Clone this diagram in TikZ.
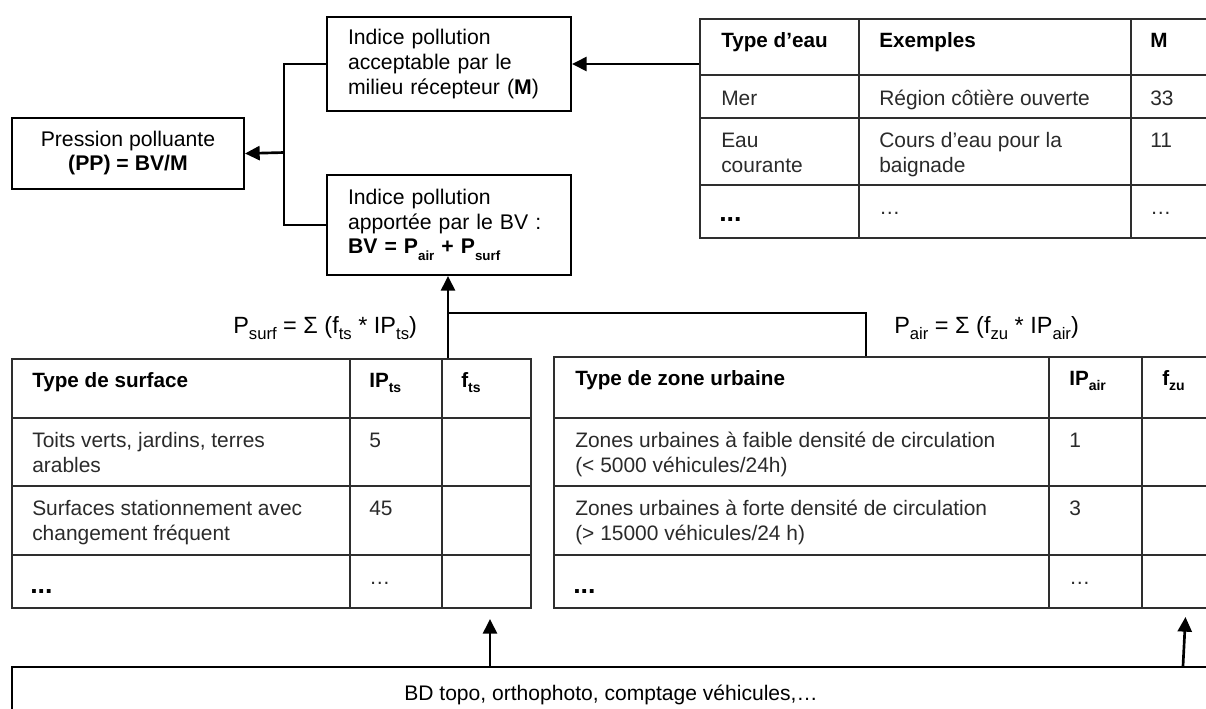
\documentclass[tikz,border=0pt]{standalone}
\usepackage{fontspec}
\setmainfont{Liberation Sans}
\usetikzlibrary{arrows.meta}
\definecolor{tabline}{HTML}{2E2E2E}
\definecolor{bodytext}{HTML}{2A2A2A}
\newcommand\mysub[3]{\raisebox{-#1}{\fontsize{#2}{#2}\selectfont #3}}
\begin{document}
\begin{tikzpicture}[x=0.75pt,y=-0.75pt,
  box/.style={draw, line width=1.5pt, anchor=north west, inner sep=0pt},
  conn/.style={line width=2pt},
  arr/.style={conn, -{Triangle[length=11pt,width=10.5pt]}},
  grid/.style={line width=1.5pt, draw=tabline},
  tab/.style={draw=tabline, line width=1.5pt, anchor=north west, inner sep=0pt},
  hd/.style={anchor=base west, inner sep=0pt, font=\fontsize{15.5}{18.75}\selectfont\bfseries},
  cell/.style={anchor=base west, inner sep=0pt, align=left, text=bodytext, font=\fontsize{15.7}{18.75}\selectfont},
  dots/.style={anchor=base west, inner sep=0pt, font=\fontsize{20}{20}\selectfont\bfseries},
  formula/.style={anchor=base west, inner sep=0pt, font=\fontsize{17.6}{20}\selectfont}]
\useasboundingbox (0,0) rectangle (1206,708);

% ---- boxes ----
\node[box, minimum width=174pt, minimum height=53.25pt, align=center,
      font=\fontsize{15.9}{18}\selectfont] (PP) at (11,117)
  {\rule{0pt}{6pt}Pression polluante\\\textbf{(PP) = BV/M}\rule[-4pt]{0pt}{1pt}};
\node[box, minimum width=183pt, minimum height=70.5pt, text width=151.5pt, align=left,
      font=\fontsize{15.9}{18.75}\selectfont] (M) at (326,16)
  {Indice pollution\\acceptable par le\\milieu récepteur (\textbf{M})};
\node[box, minimum width=183pt, minimum height=75pt, text width=151.5pt, align=left,
      font=\fontsize{15.9}{18.4}\selectfont] (BV) at (326,174)
  {Indice pollution\\apportée par le BV :\\\textbf{BV = P\mysub{5pt}{10}{air} + P\mysub{5pt}{10}{surf}}};

% ---- top-right table ----
\node[tab, minimum width=387pt, minimum height=164.25pt] (tabM) at (699,18) {};
\draw[grid] (699,75) -- (1215,75);
\draw[grid] (699,118) -- (1215,118);
\draw[grid] (699,185) -- (1215,185);
\draw[grid] (859,18) -- (859,237);
\draw[grid] (1131,18) -- (1131,237);
\node[hd] (mh1) at (721,47) {Type d’eau};
\node[hd] (mh2) at (879,47) {Exemples};
\node[hd] (mh3) at (1150,47) {M};
\node[cell] (m11) at (721,105) {Mer};
\node[cell] (m12) at (879,105) {Région côtière ouverte};
\node[cell] (m13) at (1150,105) {33};
\node[cell] (m21) at (721,172) {Eau\\courante};
\node[cell] (m22) at (879,172) {Cours d’eau pour la\\baignade};
\node[cell] (m23) at (1150,147) {11};
\node[dots] (m31) at (719,221) {...};
\node[cell] (m32) at (879,214) {…};
\node[cell] (m33) at (1150,214) {…};

% ---- bottom-left table ----
\node[tab, minimum width=389.25pt, minimum height=186.75pt] (tabS) at (11,358) {};
\draw[grid] (11,418) -- (530,418);
\draw[grid] (11,486) -- (530,486);
\draw[grid] (11,555) -- (530,555);
\draw[grid] (350,358) -- (350,607);
\draw[grid] (442,358) -- (442,607);
\node[hd] (sh1) at (32,387) {Type de surface};
\node[hd] (sh2) at (369,387) {IP\mysub{4pt}{10.5}{ts}};
\node[hd] (sh3) at (461,387) {f\mysub{4pt}{10.5}{ts}};
\node[cell] (s11) at (32,472) {Toits verts, jardins, terres\\arables};
\node[cell] (s12) at (369,447) {5};
\node[cell] (s21) at (32,540) {Surfaces stationnement avec\\changement fréquent};
\node[cell] (s22) at (369,515) {45};
\node[dots] (s31) at (30,593) {...};
\node[cell] (s32) at (369,584) {…};

% ---- bottom-right table ----
\node[tab, minimum width=496.5pt, minimum height=188.25pt] (tabA) at (553,356) {};
\draw[grid] (553,418) -- (1215,418);
\draw[grid] (553,486) -- (1215,486);
\draw[grid] (553,555) -- (1215,555);
\draw[grid] (1049,356) -- (1049,607);
\draw[grid] (1142,356) -- (1142,607);
\node[hd] (ah1) at (575,385) {Type de zone urbaine};
\node[hd] (ah2) at (1069,385) {IP\mysub{4pt}{10.5}{air}};
\node[hd] (ah3) at (1162,385) {f\mysub{4pt}{10.5}{zu}};
\node[cell] (a11) at (575,472) {Zones urbaines à faible densité de circulation\\(< 5000 véhicules/24h)};
\node[cell] (a12) at (1069,447) {1};
\node[cell] (a21) at (575,540) {Zones urbaines à forte densité de circulation\\(> 15000 véhicules/24 h)};
\node[cell] (a22) at (1069,515) {3};
\node[dots] (a31) at (573,593) {...};
\node[cell] (a32) at (1069,584) {…};

% ---- formulas ----
\node[formula] (fs) at (233,333)
  {P\mysub{5pt}{12.5}{surf} = Σ (f\mysub{5pt}{12.5}{ts} * IP\mysub{5pt}{12.5}{ts})};
\node[formula] (fa) at (894,333)
  {P\mysub{5pt}{12.5}{air} = Σ (f\mysub{5pt}{12.5}{zu} * IP\mysub{5pt}{12.5}{air})};

% ---- bottom source box ----
\node[box, minimum width=907.5pt, minimum height=45pt] (bot) at (11,666) {};
\node[anchor=base, inner sep=0pt, font=\fontsize{15.8}{18.75}\selectfont] (bottxt) at (611,700)
  {BD topo, orthophoto, comptage véhicules,…};

% ---- connectors ----
\coordinate (J) at (284,152.5);
\draw[conn] (M.west) -| (J) |- (BV.west);
\draw[arr] (J) -- (PP.east);
\draw[arr] (M.east -| tabM.west) -- (M.east);
\coordinate (sj) at (448,313);
\coordinate (aj) at (866,313);
\draw[arr] (tabS.north -| sj) -- (BV.south -| sj);
\draw[conn] (sj) -- (aj) -- (aj |- tabA.north);
\coordinate (u1) at (490,666);
\coordinate (u2) at (1183,666);
\coordinate (u2t) at (1186,607);
\draw[arr, shorten >=7.5pt] (u1) -- (u1 |- tabS.south);
\draw[arr, shorten >=7.5pt] (u2) -- (u2t);
\end{tikzpicture}
\end{document}
